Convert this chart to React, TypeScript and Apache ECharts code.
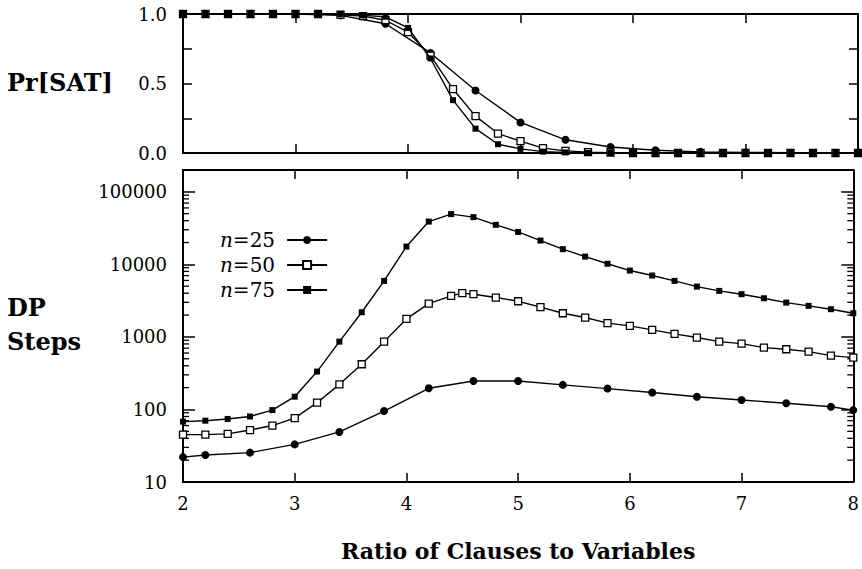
import React, { useEffect, useRef } from 'react';
import * as echarts from 'echarts';

const SERIF = "DejaVu Serif, Liberation Serif, serif";

const seriesNames = ['n=25', 'n=50', 'n=75'];

// x positions (ratio of clauses to variables)
const ratioN25 = [2.0, 2.2, 2.6, 3.0, 3.4, 3.8, 4.2, 4.6, 5.0, 5.4, 5.8, 6.2, 6.6, 7.0, 7.4, 7.8, 8.0];
const ratioStep = [2.0, 2.2, 2.4, 2.6, 2.8, 3.0, 3.2, 3.4, 3.6, 3.8, 4.0, 4.2, 4.4, 4.6, 4.8, 5.0, 5.2, 5.4, 5.6, 5.8, 6.0, 6.2, 6.4, 6.6, 6.8, 7.0, 7.2, 7.4, 7.6, 7.8, 8.0];
const ratioN50Steps = [2.0, 2.2, 2.4, 2.6, 2.8, 3.0, 3.2, 3.4, 3.6, 3.8, 4.0, 4.2, 4.4, 4.5, 4.6, 4.8, 5.0, 5.2, 5.4, 5.6, 5.8, 6.0, 6.2, 6.4, 6.6, 6.8, 7.0, 7.2, 7.4, 7.6, 7.8, 8.0];

// Pr[SAT]
const satN25 = [1, 1, 1, 1, 0.99, 0.93, 0.72, 0.45, 0.22, 0.095, 0.043, 0.02, 0.008, 0.004, 0.002, 0.001, 0.001];
const satN50 = [1, 1, 1, 1, 1, 1, 1, 0.995, 0.985, 0.955, 0.87, 0.7, 0.46, 0.265, 0.14, 0.085, 0.035, 0.015, 0.006, 0.003, 0, 0, 0, 0, 0, 0, 0, 0, 0, 0, 0];
const satN75 = [1, 1, 1, 1, 1, 1, 1, 1, 0.99, 0.98, 0.9, 0.68, 0.38, 0.175, 0.063, 0.03, 0.01, 0.004, 0.001, 0, 0, 0, 0, 0, 0, 0, 0, 0, 0, 0, 0];

// DP steps
const stepsN25 = [22, 23.6, 25.4, 33, 49, 95, 196, 247, 247, 218, 194, 171, 150, 135, 122, 109, 98];
const stepsN50 = [45, 45, 46, 52, 60, 76, 124, 222, 420, 861, 1770, 2870, 3680, 4010, 3880, 3490, 3100, 2570, 2120, 1850, 1550, 1420, 1250, 1100, 980, 861, 809, 713, 676, 628, 553, 519];
const stepsN75 = [68, 70, 74, 80, 98, 150, 333, 861, 2190, 5920, 17600, 38900, 49300, 44800, 35100, 28000, 21300, 16200, 12800, 10200, 8220, 7020, 5920, 4940, 4310, 3880, 3410, 2970, 2680, 2410, 2120];

// tick labels
const satTickLabels = ['0.0', '0.5', '1.0'];
const stepTickLabels = ['10', '100', '1000', '10000', '100000'];
const logMinorTicks = [
  20, 30, 40, 50, 60, 70, 80, 90,
  200, 300, 400, 500, 600, 700, 800, 900,
  2000, 3000, 4000, 5000, 6000, 7000, 8000, 9000,
  20000, 30000, 40000, 50000, 60000, 70000, 80000, 90000,
];

const pairs = (xs: number[], ys: number[]) => xs.map((x, i) => [x, ys[i]]);

const lineStyle = { color: '#000', width: 1.4 };
const markerStyles = [
  { symbol: 'circle', symbolSize: 8, itemStyle: { color: '#000', borderColor: '#000', borderWidth: 0 } },
  { symbol: 'rect', symbolSize: 7, itemStyle: { color: '#fff', borderColor: '#000', borderWidth: 1.3 } },
  { symbol: 'rect', symbolSize: 6, itemStyle: { color: '#000', borderColor: '#000', borderWidth: 0 } },
];

export default function App() {
  const ref = useRef<HTMLDivElement>(null);
  useEffect(() => {
    if (!ref.current) return;
    const chart = echarts.init(ref.current, undefined, { renderer: 'svg' });
    const axisLine = { show: true, onZero: false, lineStyle: { color: '#000', width: 2 } };
    const labelStyle = { color: '#000', fontFamily: SERIF, fontSize: 18 };

    const xCommon = (gridIndex: number, position: string, showLabel: boolean) => ({
      type: 'value',
      gridIndex,
      position,
      min: 2,
      max: 8,
      interval: 1,
      axisLine,
      axisTick: { show: true, inside: true, length: 9, lineStyle: { color: '#000', width: 1.5 } },
      axisLabel: { show: showLabel, ...labelStyle, margin: 12 },
      splitLine: { show: false },
    });

    const satLabel = (v: number) => {
      const s = v.toFixed(1);
      return satTickLabels.includes(s) && Math.abs(v * 2 - Math.round(v * 2)) < 1e-9 ? s : '';
    };
    const stepLabel = (v: number) => {
      const s = String(Math.round(v));
      const l = Math.log10(v);
      return Math.abs(l - Math.round(l)) < 1e-6 && stepTickLabels.includes(s) ? s : '';
    };

    const ySat = (position: string, showLabel: boolean) => ({
      type: 'value',
      gridIndex: 0,
      position,
      min: 0,
      max: 1,
      interval: 0.25,
      axisLine,
      axisTick: { show: true, inside: true, length: 9, lineStyle: { color: '#000', width: 1.5 } },
      axisLabel: { show: showLabel, ...labelStyle, margin: 16, formatter: satLabel },
      splitLine: { show: false },
    });
    const ySteps = (position: string, showLabel: boolean) => ({
      type: 'log',
      logBase: 10,
      gridIndex: 1,
      position,
      min: 10,
      max: 200000,
      axisLine,
      axisTick: { show: true, inside: true, length: 12, lineStyle: { color: '#000', width: 1.5 } },
      axisLabel: { show: showLabel, ...labelStyle, margin: 16, formatter: stepLabel, showMaxLabel: false },
      splitLine: { show: false },
    });

    const topSeries = [pairs(ratioN25, satN25), pairs(ratioStep, satN50), pairs(ratioStep, satN75)].map((d, i) => ({
      type: 'line',
      name: seriesNames[i],
      xAxisIndex: 0,
      yAxisIndex: 0,
      data: d,
      ...markerStyles[i],
      lineStyle,
      z: 3 + i,
    }));
    const bottomSeries = [pairs(ratioN25, stepsN25), pairs(ratioN50Steps, stepsN50), pairs(ratioStep, stepsN75)].map((d, i) => ({
      type: 'line',
      name: seriesNames[i],
      xAxisIndex: 2,
      yAxisIndex: 2,
      data: d,
      ...markerStyles[i],
      lineStyle,
      z: 3 + i,
    }));

    const minorTickSeries = {
      type: 'custom',
      name: 'minor',
      xAxisIndex: 2,
      yAxisIndex: 2,
      silent: true,
      clip: false,
      data: logMinorTicks.map((v) => [2, v]),
      renderItem: (_params: any, api: any) => {
        const v = api.value(1);
        const l = api.coord([2, v]);
        const r = api.coord([8, v]);
        const st = { stroke: '#000', lineWidth: 1.3 };
        return {
          type: 'group',
          children: [
            { type: 'line', shape: { x1: l[0], y1: l[1], x2: l[0] + 6, y2: l[1] }, style: st },
            { type: 'line', shape: { x1: r[0], y1: r[1], x2: r[0] - 6, y2: r[1] }, style: st },
          ],
        };
      },
    };

    chart.setOption({
      animation: false,
      backgroundColor: '#fff',
      grid: [
        { left: 183, top: 14, width: 675, height: 139 },
        { left: 183, top: 170, width: 675, height: 312 },
      ],
      xAxis: [
        xCommon(0, 'bottom', false),
        xCommon(0, 'top', false),
        {
          ...xCommon(1, 'bottom', true),
          name: 'Ratio of Clauses to Variables',
          nameLocation: 'middle',
          nameGap: 58,
          nameTextStyle: { color: '#000', fontFamily: SERIF, fontSize: 22, fontWeight: 'bold' },
        },
        xCommon(1, 'top', false),
      ],
      yAxis: [ySat('left', true), ySat('right', false), ySteps('left', true), ySteps('right', false)],
      legend: {
        data: seriesNames,
        orient: 'vertical',
        left: 215,
        top: 224,
        align: 'right',
        itemWidth: 40,
        itemHeight: 10,
        itemGap: 3,
        selectedMode: false,
        formatter: (name: string) => `{i|n}{r|${name.slice(1)}}`,
        textStyle: {
          color: '#000',
          fontFamily: SERIF,
          fontSize: 20,
          lineHeight: 22,
          padding: [0, 7, 0, 0],
          rich: {
            i: { fontStyle: 'italic', fontFamily: SERIF, fontSize: 20, color: '#000', lineHeight: 22 },
            r: { fontFamily: SERIF, fontSize: 20, color: '#000', lineHeight: 22 },
          },
        },
      },
      graphic: [
        { type: 'text', left: 7, top: 70, style: { text: 'Pr[SAT]', font: `bold 24px ${SERIF}`, fill: '#000' } },
        { type: 'text', left: 7, top: 295, style: { text: 'DP', font: `bold 24px ${SERIF}`, fill: '#000' } },
        { type: 'text', left: 7, top: 329, style: { text: 'Steps', font: `bold 24px ${SERIF}`, fill: '#000' } },
      ],
      series: [...topSeries, ...bottomSeries, minorTickSeries],
    });
    return () => chart.dispose();
  }, []);
  return (
    <div
      ref={ref}
      style={{ position: 'absolute', left: 0, top: 0, width: 862, height: 569, background: '#fff' }}
    />
  );
}
